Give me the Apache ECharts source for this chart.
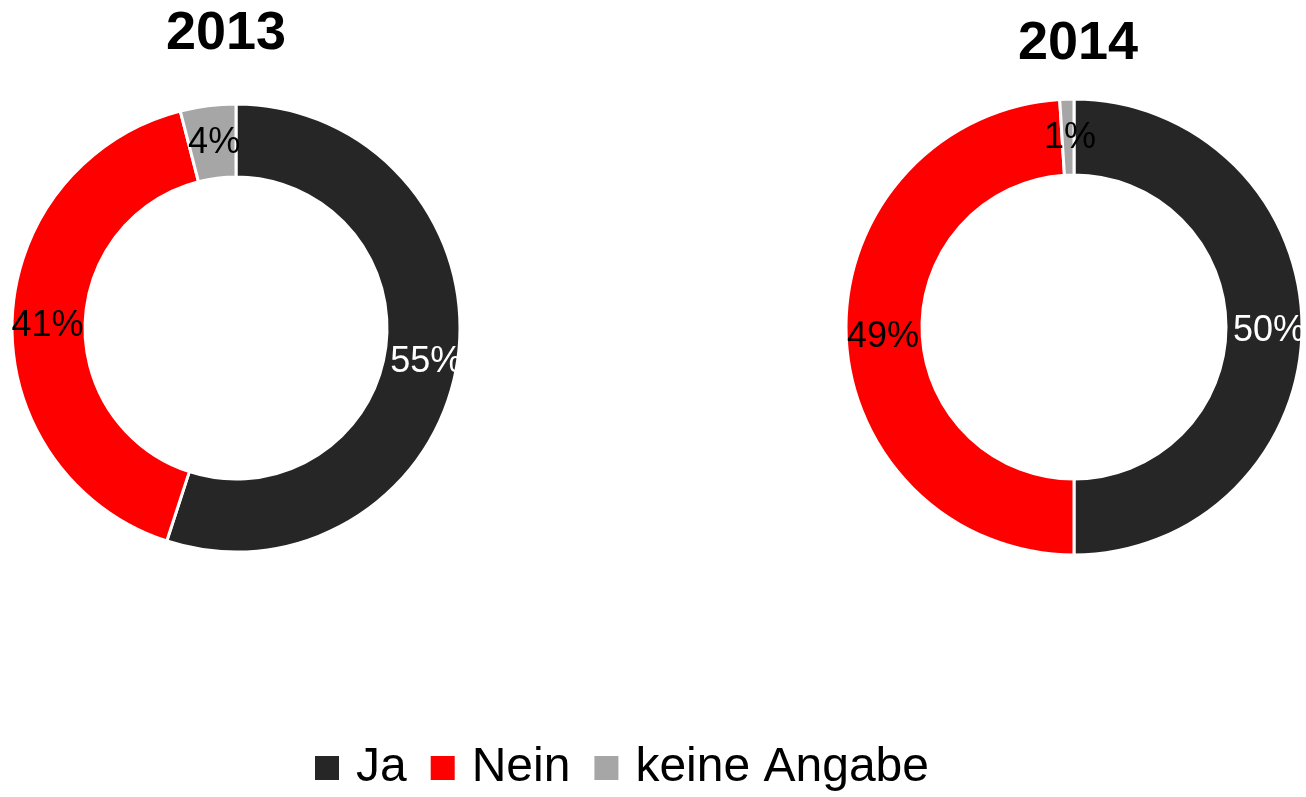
<!DOCTYPE html>
<html>
<head>
<meta charset="utf-8">
<script src="https://cdn.jsdelivr.net/npm/echarts@6/dist/echarts.min.js"></script>
<style>
  html, body { margin: 0; padding: 0; background: #fff; }
  #chart { width: 1306px; height: 797px; }
</style>
</head>
<body>
<div id="chart"></div>
<script>
// Daten
var categories = ['Ja', 'Nein', 'keine Angabe'];
var years = ['2013', '2014'];
var values2013 = [55, 41, 4];
var values2014 = [50, 49, 1];

var colors = ['#262626', '#ff0000', '#a6a6a6'];
var labelColors = ['#fff', '#000', '#000'];
var font = "'Liberation Sans', Arial, sans-serif";

function buildData(values) {
    return categories.map(function (name, i) {
        return {
            name: name,
            value: values[i],
            label: { color: labelColors[i] }
        };
    });
}

function donut(name, values, center, radius) {
    return {
        name: name,
        type: 'pie',
        center: center,
        radius: radius,
        startAngle: 90,
        clockwise: true,
        silent: true,
        itemStyle: {
            borderColor: '#fff',
            borderWidth: 3
        },
        label: {
            show: true,
            position: 'inside',
            formatter: '{c}%',
            fontFamily: font,
            fontSize: 36,
            overflow: 'none',
            offset: [2, 4]
        },
        labelLine: { show: false },
        data: buildData(values)
    };
}

var chart = echarts.init(document.getElementById('chart'));
chart.setOption({
    animation: false,
    color: colors,
    title: [
        {
            text: years[0],
            left: 221,
            top: 2,
            textAlign: 'center',
            textStyle: { fontFamily: font, fontSize: 54, fontWeight: 'bold', color: '#000' }
        },
        {
            text: years[1],
            left: 1073,
            top: 12,
            textAlign: 'center',
            textStyle: { fontFamily: font, fontSize: 54, fontWeight: 'bold', color: '#000' }
        }
    ],
    legend: {
        data: categories,
        left: 308,
        top: 739,
        itemWidth: 26,
        itemHeight: 26,
        itemGap: 22,
        icon: 'rect',
        selectedMode: false,
        textStyle: {
            fontFamily: font,
            fontSize: 48,
            color: '#000',
            padding: [0, 0, 0, 11]
        }
    },
    series: [
        donut(years[0], values2013, [236, 328], [151, 224]),
        donut(years[1], values2014, [1074, 327], [152, 228])
    ]
});
</script>
</body>
</html>
